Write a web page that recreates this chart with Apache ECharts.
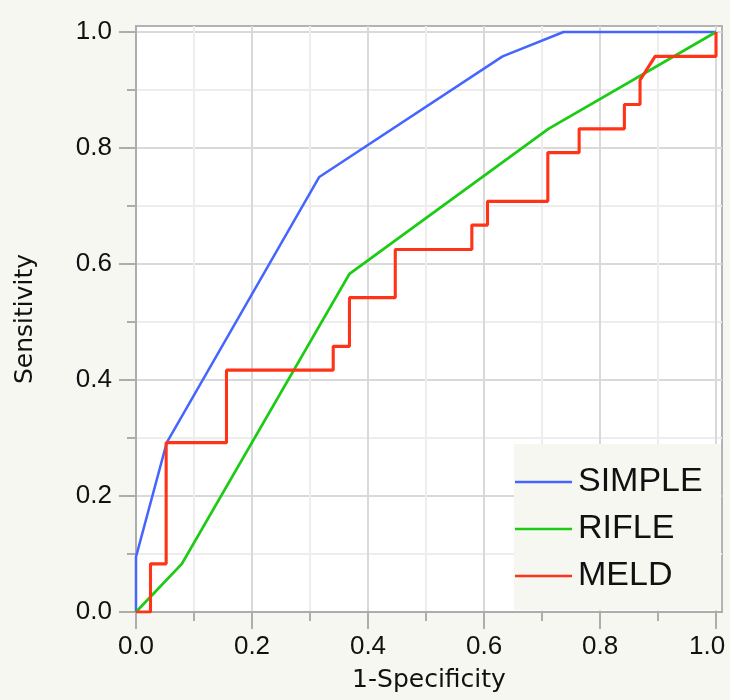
<!DOCTYPE html>
<html>
<head>
<meta charset="utf-8">
<script src="https://cdn.jsdelivr.net/npm/echarts@6/dist/echarts.min.js"></script>
<style>
html,body{margin:0;padding:0;background:#f7f7f2;overflow:hidden;width:730px;height:700px;}
#chart{width:730px;height:700px;}
</style>
</head>
<body>
<div id="chart"></div>
<script>
// ---- data ----
const seriesNames = ['SIMPLE', 'RIFLE', 'MELD'];
const simpleX = [0, 0, 0.053, 0.316, 0.632, 0.737, 1.0];
const simpleY = [0, 0.095, 0.292, 0.750, 0.958, 1.0, 1.0];
const rifleX = [0, 0.079, 0.368, 0.711, 1.0];
const rifleY = [0, 0.083, 0.583, 0.833, 1.0];
const meldX = [0, 0.025, 0.025, 0.052, 0.052, 0.156, 0.156, 0.340, 0.340, 0.368, 0.368, 0.447, 0.447, 0.579, 0.579, 0.606, 0.606, 0.710, 0.710, 0.764, 0.764, 0.842, 0.842, 0.869, 0.869, 0.895, 1.0, 1.0];
const meldY = [0, 0, 0.083, 0.083, 0.292, 0.292, 0.417, 0.417, 0.458, 0.458, 0.542, 0.542, 0.625, 0.625, 0.667, 0.667, 0.708, 0.708, 0.792, 0.792, 0.833, 0.833, 0.875, 0.875, 0.917, 0.958, 0.958, 1.0];
const majorTicks = [0, 0.2, 0.4, 0.6, 0.8, 1.0];
const minorTicks = [0.1, 0.3, 0.5, 0.7, 0.9];
const xTitle = '1-Specificity';
const yTitle = 'Sensitivity';

// ---- chart ----
const zip = (xs, ys) => xs.map((x, i) => [x, ys[i]]);
const axisGray = '#adadad';
const labelFont = {fontFamily: 'Liberation Sans', fontSize: 26, color: '#111'};
const titleFont = {fontFamily: 'DejaVu Sans', fontSize: 25, color: '#111'};

function mainAxis(isX) {
  return {
    type: 'value', min: 0, max: 1.0103, interval: 0.2,
    position: isX ? 'bottom' : 'left',
    name: isX ? xTitle : yTitle,
    nameLocation: 'middle',
    nameGap: isX ? 56 : 98,
    nameTextStyle: titleFont,
    axisLine: {show: true, lineStyle: {color: axisGray, width: 2}},
    axisTick: {show: true, customValues: majorTicks, length: 17, lineStyle: {color: axisGray, width: 2}},
    minorTick: {show: false, splitNumber: 2},
    axisLabel: {show: true, customValues: majorTicks, margin: isX ? 22 : 24,
      formatter: v => (isX && v > 0.99) ? '{r|' + v.toFixed(1) + '}' : v.toFixed(1),
      rich: {r: {...labelFont, padding: [0, 18, 0, 0]}},
      ...labelFont},
    splitLine: {show: true, lineStyle: {color: '#d9d9d9', width: 2}},
    minorSplitLine: {show: true, lineStyle: {color: '#ededed', width: 2}},
    z: 1
  };
}
function minorAxis(isX) {
  return {
    type: 'value', min: 0, max: 1.0103, interval: 0.2,
    position: isX ? 'bottom' : 'left',
    axisLine: {show: false},
    axisTick: {show: true, customValues: minorTicks, length: 9, lineStyle: {color: axisGray, width: 2}},
    axisLabel: {show: false},
    splitLine: {show: false}
  };
}

const chart = echarts.init(document.getElementById('chart'), null, {renderer: 'canvas', width: 730, height: 700});
chart.setOption({
  backgroundColor: '#f7f7f2',
  animation: false,
  grid: {left: 136, top: 26, right: 8, bottom: 88, show: true, containLabel: false,
    outerBoundsMode: 'none',
    backgroundColor: '#ffffff', borderColor: '#b3b3b3', borderWidth: 2},
  xAxis: [mainAxis(true), minorAxis(true)],
  yAxis: [mainAxis(false), minorAxis(false)],
  legend: {
    orient: 'vertical', left: 514, top: 444,
    padding: [21, 18, 17, 1], itemGap: 13,
    backgroundColor: '#f7f7f2',
    icon: 'rect', itemWidth: 57, itemHeight: 2.5,
    textStyle: {fontFamily: 'Liberation Sans', fontSize: 34, color: '#111', padding: [0, 0, 0, 1]},
    data: seriesNames
  },
  series: [
    {name: seriesNames[0], type: 'line', data: zip(simpleX, simpleY), showSymbol: false,
      color: '#4466ff', lineStyle: {width: 2.5}, z: 3},
    {name: seriesNames[1], type: 'line', data: zip(rifleX, rifleY), showSymbol: false,
      color: '#1ccc14', lineStyle: {width: 2.8}, z: 3},
    {name: seriesNames[2], type: 'line', data: zip(meldX, meldY), showSymbol: false,
      color: '#ff3318', lineStyle: {width: 3.1}, z: 4}
  ]
});
</script>
</body>
</html>
